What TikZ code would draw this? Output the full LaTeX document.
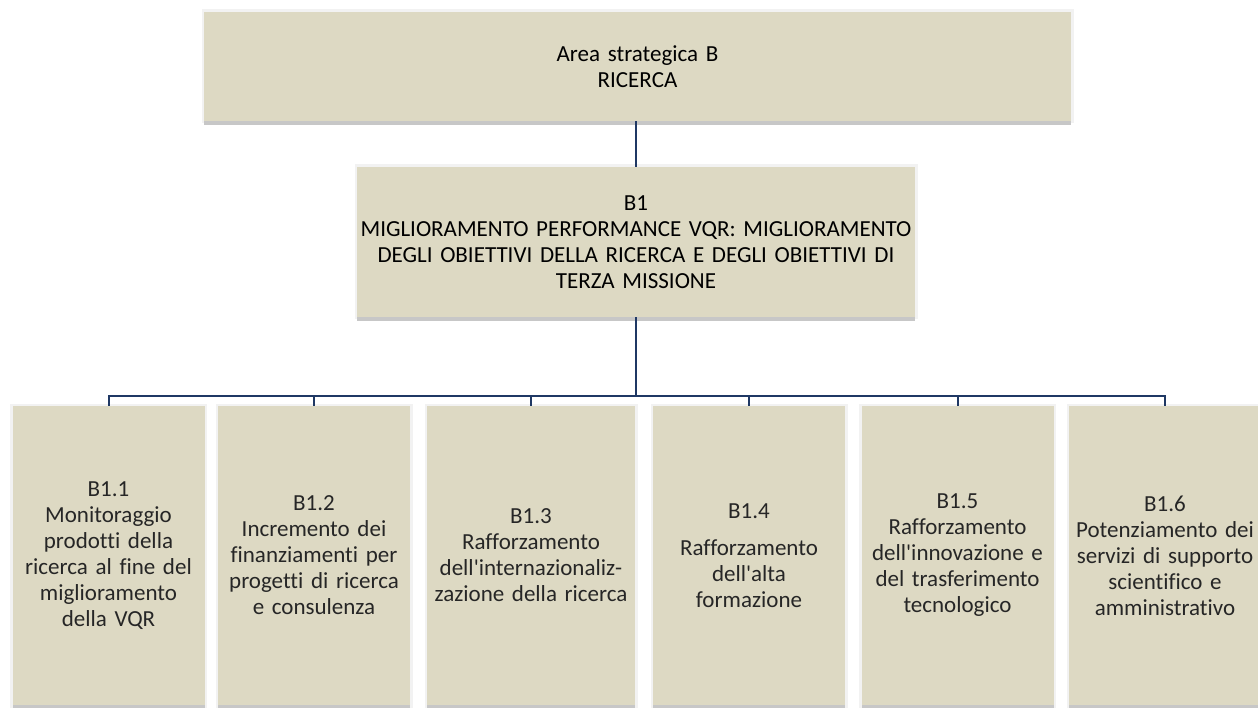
\documentclass[tikz,border=0pt]{standalone}
\usepackage{fontspec}
\setmainfont{Carlito}[Ligatures=NoCommon]
\usepackage{tikz}

\definecolor{boxtan}{RGB}{221,217,195}
\definecolor{linknavy}{RGB}{31,56,100}

\begin{document}
\begin{tikzpicture}[x=1pt,y=-1pt,
    box/.style={fill=boxtan,align=center,inner sep=0pt,
      preaction={draw=black!5,line width=5pt},
      preaction={fill=black!22,transform canvas={yshift=-4pt}}},
    topbox/.style={box,font=\fontsize{23}{26}\selectfont},
    leafbox/.style={box,minimum width=192pt,minimum height=299pt,
      text width=188pt,text=black!85,font=\fontsize{23}{26}\selectfont},
    link/.style={draw=linknavy,line width=2pt}]
  \useasboundingbox (0,0) rectangle (1258,708);

  % area and objective
  \node[topbox,minimum width=867pt,minimum height=109pt,text width=860pt] (area)
    at (637.5,66.5) {Area strategica B\\RICERCA};
  \node[topbox,minimum width=558pt,minimum height=150pt,text width=556pt] (b1)
    at (636,242) {B1\\MIGLIORAMENTO PERFORMANCE VQR: MIGLIORAMENTO\\
    DEGLI OBIETTIVI DELLA RICERCA E DEGLI OBIETTIVI DI\\TERZA MISSIONE};

  % actions
  \node[leafbox] (b11) at (108.5,555.5)
    {B1.1\\Monitoraggio\\prodotti della\\ricerca al fine del\\miglioramento\\della VQR};
  \node[leafbox] (b12) at (314,555.5)
    {B1.2\\Incremento dei\\finanziamenti per\\progetti di ricerca\\e consulenza};
  \node[leafbox,minimum width=208pt,text width=204pt] (b13) at (531,555.5)
    {B1.3\\Rafforzamento\\dell\textquotesingle internazionaliz-\\zazione della ricerca};
  \node[leafbox] (b14) at (749,555.5)
    {B1.4\\[11pt]Rafforzamento\\dell\textquotesingle alta\\formazione};
  \node[leafbox] (b15) at (957.5,555.5)
    {B1.5\\Rafforzamento\\dell\textquotesingle innovazione e\\del trasferimento\\tecnologico};
  \node[leafbox] (b16) at (1165,555.5)
    {B1.6\\Potenziamento dei\\servizi di supporto\\scientifico e\\amministrativo};

  % connectors
  \draw[link] (b1.north) -- (b1.north |- area.south);
  \draw[link] (b1.south) -- ++(0,79) coordinate (bus);
  \draw[link] (b11.north) -- (b11.north |- bus) -- (b16.north |- bus) -- (b16.north);
  \foreach \n in {b12,b13,b14,b15}
    \draw[link] (\n.north |- bus) -- (\n.north);
\end{tikzpicture}
\end{document}
